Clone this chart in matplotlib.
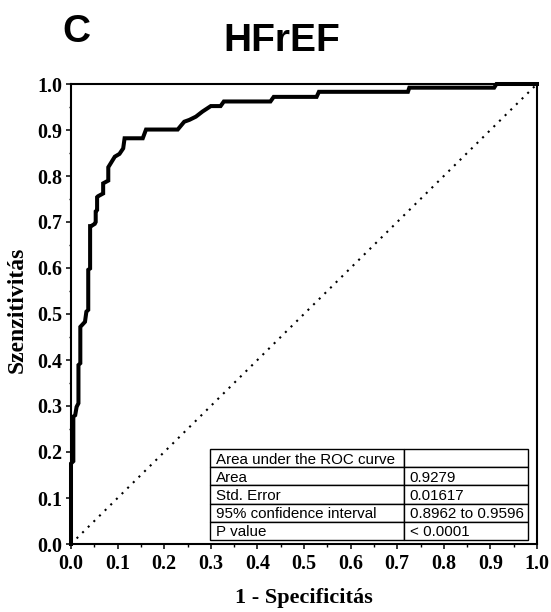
import matplotlib
matplotlib.use("Agg")
import matplotlib.pyplot as plt
from matplotlib.ticker import MultipleLocator, FormatStrFormatter

# ROC curve
fpr = [0.000, 0.000, 0.005, 0.005, 0.009, 0.012, 0.016, 0.016, 0.020, 0.020,
       0.030, 0.033, 0.037, 0.037, 0.041, 0.041, 0.043, 0.051, 0.053, 0.053,
       0.056, 0.056, 0.058, 0.069, 0.069, 0.080, 0.080, 0.094, 0.104, 0.112,
       0.115, 0.154, 0.161, 0.229, 0.243, 0.254, 0.268, 0.282, 0.300, 0.321,
       0.328, 0.428, 0.435, 0.527, 0.532, 0.723, 0.726, 0.908, 0.913, 1.000]
tpr = [0.000, 0.175, 0.180, 0.277, 0.280, 0.298, 0.306, 0.389, 0.393, 0.472,
       0.483, 0.505, 0.509, 0.596, 0.599, 0.691, 0.691, 0.696, 0.700, 0.723,
       0.726, 0.754, 0.756, 0.762, 0.784, 0.790, 0.819, 0.842, 0.848, 0.860,
       0.882, 0.882, 0.901, 0.901, 0.918, 0.922, 0.929, 0.940, 0.952, 0.952,
       0.962, 0.962, 0.972, 0.972, 0.983, 0.983, 0.992, 0.992, 1.000, 1.000]

ref_line = [0.0, 1.0]

table_rows = [["Area under the ROC curve", ""],
              ["Area", "0.9279"],
              ["Std. Error", "0.01617"],
              ["95% confidence interval", "0.8962 to 0.9596"],
              ["P value", "< 0.0001"]]

title = "HFrEF"
panel = "C"
xlabel = "1 - Specificitás"
ylabel = "Szenzitivitás"

serif = ["Liberation Serif", "DejaVu Serif"]
sans = ["Liberation Sans", "DejaVu Sans"]

fig = plt.figure(figsize=(5.51, 6.12), dpi=100)
ax = fig.add_axes([71/551, 1-544/612, (537-71)/551, (544-84)/612])

ax.plot(fpr, tpr, color="black", lw=2.9, solid_joinstyle="miter", clip_on=False, zorder=3)
ax.plot(ref_line, ref_line, color="black", lw=1.5, linestyle=(0, (1, 2.8)), zorder=2)

ax.set_xlim(0, 1)
ax.set_ylim(0, 1)
ax.xaxis.set_major_locator(MultipleLocator(0.1))
ax.yaxis.set_major_locator(MultipleLocator(0.1))
ax.xaxis.set_minor_locator(MultipleLocator(0.05))
ax.yaxis.set_minor_locator(MultipleLocator(0.05))
ax.xaxis.set_major_formatter(FormatStrFormatter("%.1f"))
ax.yaxis.set_major_formatter(FormatStrFormatter("%.1f"))
ax.tick_params(which="major", direction="out", length=3.5, width=1.1, pad=2.5)
ax.tick_params(which="minor", direction="out", length=1.8, width=1.0)
ax.tick_params(axis="x", which="major", pad=3.5)
for sp in ax.spines.values():
    sp.set_linewidth(1.5)
for lab in ax.get_xticklabels() + ax.get_yticklabels():
    lab.set_family(serif)
    lab.set_fontweight("bold")
    lab.set_fontsize(14.5)

ax.set_xlabel(xlabel, family=serif, fontweight="bold", fontsize=16, labelpad=10)
ax.set_ylabel(ylabel, family=serif, fontweight="bold", fontsize=17)
ax.yaxis.set_label_coords(-0.093, 0.51)

fig.text(282/551, 1-51/612, title, family=sans, fontweight="bold", fontsize=28,
         ha="center", va="baseline")
fig.text(76/551, 1-42/612, panel, family=sans, fontweight="bold", fontsize=28,
         ha="center", va="baseline")

# table
x0 = (210-71)/466
x1 = (404-71)/466
x2 = (528-71)/466
ytop = (544-449)/460
rh = 18.2/460
for i, (a, b) in enumerate(table_rows):
    yt = ytop - i*rh
    yb = yt - rh
    for (l, r, txt) in [(x0, x1, a), (x1, x2, b)]:
        ax.add_patch(plt.Rectangle((l, yb), r-l, rh, fill=True, facecolor="white",
                                   edgecolor="black", lw=1.0, zorder=4))
        ax.text(l + 0.012, (yt+yb)/2, txt, family=sans, fontsize=10.9,
                ha="left", va="center_baseline", zorder=5)

fig.savefig("out.png", dpi=100)
